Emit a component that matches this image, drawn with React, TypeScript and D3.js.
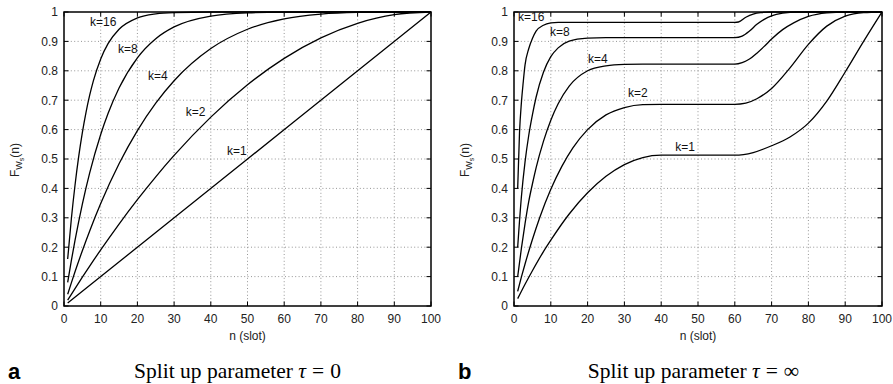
import React from 'react';
import * as d3 from 'd3';

// ---------- data ----------
const slotTicks = [0, 10, 20, 30, 40, 50, 60, 70, 80, 90, 100];
const probTicks = [0, 0.1, 0.2, 0.3, 0.4, 0.5, 0.6, 0.7, 0.8, 0.9, 1];
const kNames = ['k=1', 'k=2', 'k=4', 'k=8', 'k=16'];

// panel a : split up parameter tau = 0
const slotsA1 = [1, 25, 50, 75, 100];
const probA1 = [0.01, 0.25, 0.5, 0.75, 1];
const slotsA2 = [1, 2, 3, 5, 7, 10, 15, 20, 25, 30, 40, 50, 60, 70, 80, 90, 100];
const probA2 = [0.02, 0.0398, 0.0594, 0.098, 0.1358, 0.1909, 0.2788, 0.3616, 0.4394, 0.5121, 0.6424, 0.7525, 0.8424, 0.9121, 0.9616, 0.9909, 1];
const slotsA4 = [1, 2, 3, 5, 7, 10, 15, 20, 25, 30, 40, 50, 60, 70, 80, 90, 100];
const probA4 = [0.04, 0.0788, 0.1164, 0.1881, 0.2554, 0.3484, 0.4836, 0.5967, 0.69, 0.7662, 0.8756, 0.9413, 0.9767, 0.993, 0.9988, 1, 1];
const slotsA8 = [1, 2, 3, 4, 5, 7, 10, 12, 15, 20, 25, 30, 40, 50, 60, 70, 100];
const probA8 = [0.08, 0.1543, 0.2234, 0.2874, 0.3468, 0.4527, 0.5835, 0.6546, 0.7414, 0.8443, 0.9093, 0.9493, 0.9862, 0.9971, 0.9996, 1, 1];
const slotsA16 = [1, 2, 3, 4, 5, 6, 7, 8, 10, 12, 15, 20, 25, 30, 40, 100];
const probA16 = [0.16, 0.2958, 0.4107, 0.5079, 0.5899, 0.659, 0.717, 0.7657, 0.8405, 0.8924, 0.9415, 0.98, 0.9937, 0.998, 1, 1];

// panel b : split up parameter tau = infinity
const slotsB1 = [1, 3, 5, 8, 10, 15, 20, 25, 30, 35, 40, 50, 60, 65, 70, 75, 80, 85, 90, 95, 100];
const probB1 = [0.025, 0.074, 0.12, 0.185, 0.224, 0.313, 0.385, 0.441, 0.481, 0.505, 0.513, 0.513, 0.513, 0.522, 0.545, 0.575, 0.622, 0.697, 0.796, 0.9, 1];
const slotsB2 = [1, 2, 3, 5, 7, 10, 13, 16, 20, 25, 30, 35, 40, 60, 63, 66, 70, 75, 80, 85, 90, 95, 100];
const probB2 = [0.05, 0.098, 0.143, 0.226, 0.301, 0.397, 0.475, 0.538, 0.6, 0.65, 0.675, 0.685, 0.686, 0.686, 0.69, 0.705, 0.74, 0.81, 0.89, 0.952, 0.986, 0.998, 1];
const slotsB4 = [1, 2, 3, 4, 5, 6, 8, 10, 12, 15, 20, 25, 30, 35, 60, 62, 64, 66, 68, 70, 73, 76, 80, 85, 90, 100];
const probB4 = [0.1, 0.195, 0.28, 0.355, 0.415, 0.47, 0.56, 0.632, 0.688, 0.748, 0.8, 0.817, 0.822, 0.823, 0.823, 0.828, 0.84, 0.86, 0.883, 0.908, 0.94, 0.963, 0.985, 0.997, 1, 1];
const slotsB8 = [1, 2, 3, 4, 5, 6, 8, 10, 12, 15, 20, 25, 60, 62, 64, 66, 68, 70, 73, 77, 100];
const probB8 = [0.2, 0.37, 0.49, 0.58, 0.65, 0.71, 0.795, 0.848, 0.878, 0.901, 0.911, 0.913, 0.913, 0.918, 0.935, 0.958, 0.975, 0.987, 0.996, 1, 1];
const slotsB16 = [1, 1.5, 2, 2.5, 3, 4, 5, 6, 8, 10, 12, 60, 61, 63, 65, 67, 70, 100];
const probB16 = [0.4, 0.59, 0.69, 0.76, 0.82, 0.875, 0.91, 0.935, 0.955, 0.963, 0.965, 0.965, 0.966, 0.982, 0.993, 0.998, 1, 1];

// curve label anchors (slot, probability)
const labelSlotsA = [44.4, 33.2, 22.9, 14.7, 7.1];
const labelProbA = [0.514, 0.646, 0.769, 0.861, 0.952];
const labelSlotsB = [43.8, 31, 20.1, 9.8, 1.1];
const labelProbB = [0.527, 0.711, 0.827, 0.918, 0.969];

const panelA = {
  series: [
    [slotsA1, probA1], [slotsA2, probA2], [slotsA4, probA4], [slotsA8, probA8], [slotsA16, probA16],
  ],
  labelSlots: labelSlotsA,
  labelProbs: labelProbA,
  letter: 'a',
  symbol: '0',
};
const panelB = {
  series: [
    [slotsB1, probB1], [slotsB2, probB2], [slotsB4, probB4], [slotsB8, probB8], [slotsB16, probB16],
  ],
  labelSlots: labelSlotsB,
  labelProbs: labelProbB,
  letter: 'b',
  symbol: '\u221E',
};

// ---------- layout ----------
const W = 893;
const H = 384;
const TOP = 12;
const BOTTOM = 306;
const SANS = '"Liberation Sans", Arial, Helvetica, sans-serif';
const SERIF = '"Liberation Serif", "Times New Roman", serif';

function Panel({ x0, x1, data, capX }: { x0: number; x1: number; data: any; capX: number }) {
  const x = d3.scaleLinear().domain([0, 100]).range([x0, x1]);
  const y = d3.scaleLinear().domain([0, 1]).range([BOTTOM, TOP]);
  const line = d3
    .line<[number, number]>()
    .x((d) => x(d[0]))
    .y((d) => y(d[1]))
    .curve(d3.curveMonotoneX);
  const cx = (x0 + x1) / 2;
  const tick = 4.5;
  return (
    <g>
      {/* grid */}
      {slotTicks.slice(1, -1).map((t) => (
        <line key={'gx' + t} x1={x(t)} x2={x(t)} y1={y(0)} y2={y(1)} stroke="#8a8a8a" strokeWidth={0.9} strokeDasharray="1,2.4" />
      ))}
      {probTicks.slice(1, -1).map((t) => (
        <line key={'gy' + t} x1={x(0)} x2={x(100)} y1={y(t)} y2={y(t)} stroke="#8a8a8a" strokeWidth={0.9} strokeDasharray="1,2.4" />
      ))}
      {/* curves */}
      {data.series.map((s: number[][], i: number) => (
        <path
          key={'c' + i}
          d={line(s[0].map((v, j) => [v, s[1][j]] as [number, number])) || ''}
          fill="none"
          stroke="#000"
          strokeWidth={1.3}
        />
      ))}
      {/* ticks (inward, mirrored) */}
      {slotTicks.map((t) => (
        <g key={'tx' + t}>
          <line x1={x(t)} x2={x(t)} y1={y(0)} y2={y(0) - tick} stroke="#000" strokeWidth={1} />
          <line x1={x(t)} x2={x(t)} y1={y(1)} y2={y(1) + tick} stroke="#000" strokeWidth={1} />
        </g>
      ))}
      {probTicks.map((t) => (
        <g key={'ty' + t}>
          <line x1={x(0)} x2={x(0) + tick} y1={y(t)} y2={y(t)} stroke="#000" strokeWidth={1} />
          <line x1={x(100)} x2={x(100) - tick} y1={y(t)} y2={y(t)} stroke="#000" strokeWidth={1} />
        </g>
      ))}
      {/* frame */}
      <rect x={x(0)} y={y(1)} width={x(100) - x(0)} height={y(0) - y(1)} fill="none" stroke="#000" strokeWidth={1.5} />
      {/* tick labels */}
      {slotTicks.map((t) => (
        <text key={'lx' + t} x={x(t)} y={y(0) + 17} textAnchor="middle" fontFamily={SANS} fontSize={12} fill="#222">
          {t}
        </text>
      ))}
      {probTicks.map((t) => (
        <text key={'ly' + t} x={x(0) - 6} y={y(t) + 4.3} textAnchor="end" fontFamily={SANS} fontSize={12} fill="#222">
          {String(+t.toFixed(1))}
        </text>
      ))}
      {/* axis titles */}
      <text x={cx} y={340} textAnchor="middle" fontFamily={SANS} fontSize={12} fill="#222">
        n (slot)
      </text>
      <text transform={`translate(${x0 - 45.5},${(TOP + BOTTOM) / 2 + 1}) rotate(-90)`} textAnchor="middle" fontFamily={SANS} fontSize={12} fill="#222">
        F
        <tspan dy={3} fontSize={9}>W</tspan>
        <tspan dy={2} fontSize={7}>s</tspan>
        <tspan dy={-5} fontSize={12}>(n)</tspan>
      </text>
      {/* curve labels */}
      {kNames.map((k, i) => (
        <text key={'k' + i} x={x(data.labelSlots[i])} y={y(data.labelProbs[i])} fontFamily={SANS} fontSize={12} fill="#111">
          {k}
        </text>
      ))}
      {/* panel letter & caption */}
      <text x={x0 - 56} y={379} fontFamily={SANS} fontWeight="bold" fontSize={22} fill="#000">
        {data.letter}
      </text>
      <text x={capX} y={377.5} textAnchor="middle" fontFamily={SERIF} fontSize={21.5} fill="#000">
        {'Split up parameter '}
        <tspan fontStyle="italic">{'\u03C4'}</tspan>
        <tspan dx={6}>=</tspan>
        <tspan dx={6}>{data.symbol}</tspan>
      </text>
    </g>
  );
}

export default function App() {
  return (
    <svg width={W} height={H} viewBox={`0 0 ${W} ${H}`} style={{ position: 'absolute', left: 0, top: 0, background: '#fff' }}>
      <rect x={0} y={0} width={W} height={H} fill="#fff" />
      <Panel x0={64} x1={431} data={panelA} capX={237.5} />
      <Panel x0={514} x1={882} data={panelB} capX={693.5} />
    </svg>
  );
}
